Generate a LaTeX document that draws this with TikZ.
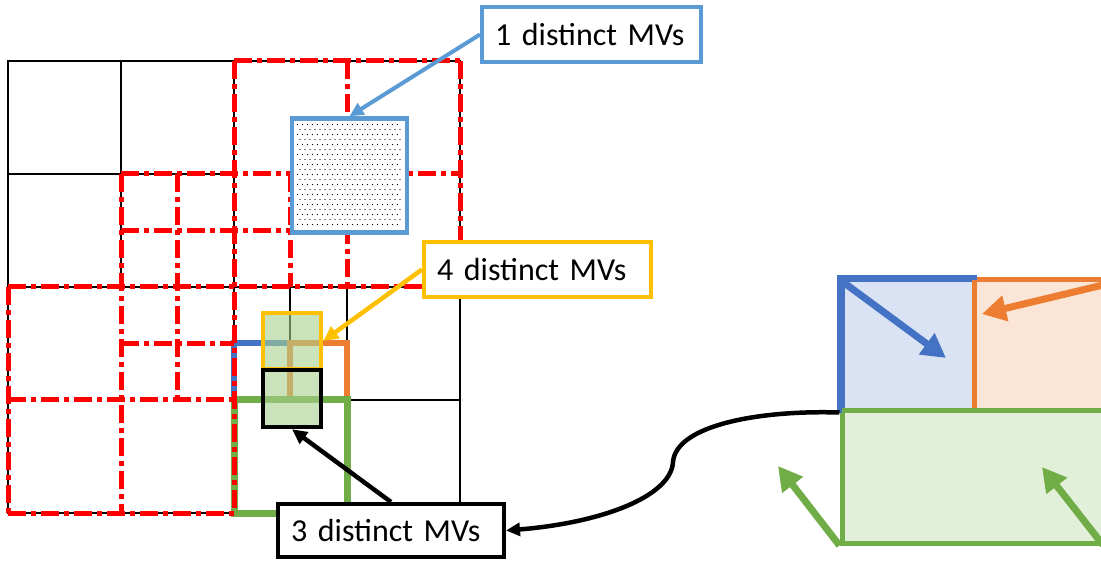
\documentclass[tikz,border=0pt]{standalone}
\usepackage{fontspec}
\setmainfont{Carlito}
\usetikzlibrary{arrows.meta}
\definecolor{mvred}{HTML}{FF0000}
\definecolor{mvlblue}{HTML}{5B9BD5}
\definecolor{mvyellow}{HTML}{FFC000}
\definecolor{mvblue}{HTML}{4472C4}
\definecolor{mvorange}{HTML}{ED7D31}
\definecolor{mvgreen}{HTML}{70AD47}
\definecolor{mvgfill}{HTML}{A9D18E}
\definecolor{fillblue}{HTML}{DAE3F3}
\definecolor{fillorange}{HTML}{FBE5D6}
\definecolor{fillgreen}{HTML}{E2F0D9}
\tikzset{
  gridline/.style={draw=black, line width=1.8},
  reddash/.style={draw=mvred, line width=5, dash pattern=on 18pt off 5pt on 5pt off 5pt},
  callout/.style={draw, line width=4, fill=white, font=\fontsize{32}{38}\selectfont,
    inner xsep=13, inner ysep=0, align=left, minimum height=55, anchor=west},
  cand/.style={fill=mvgfill, fill opacity=0.6, line width=4.5, minimum width=58, minimum height=56, inner sep=0},
  bigbox/.style={line width=5, inner sep=0},
  mvarrow/.style={line width=7, -{Triangle[length=24pt,width=25pt]}},
}
\begin{document}
\begin{tikzpicture}[x=1pt,y=-1pt]
\path[use as bounding box, clip] (0,0) rectangle (1101,561);
\fill[white] (0,0) rectangle (1101,561);

% thin block grid
\draw[gridline] (8,61) rectangle (460,513);
\draw[gridline] (234,61) -- (234,513) (8,287) -- (460,287);
\draw[gridline] (121,61) -- (121,287) (8,174) -- (234,174);
\draw[gridline] (347,287) -- (347,513) (347,400) -- (460,400);
\draw[gridline] (290,287) -- (290,400) (234,343) -- (347,343);

% neighbouring sub-blocks
\draw[draw=mvblue, line width=6] (234,400) -- (234,343) -- (290,343);
\draw[draw=mvorange, line width=6] (290,400) -- (290,343) -- (347,343) -- (347,400);
\draw[draw=mvgreen, line width=7] (234,400) rectangle (347,513);

% shifted partition (dash-dot)
\draw[reddash] (234,61) -- (460,61);
\draw[reddash] (121,174) -- (460,174);
\draw[reddash] (121,231) -- (290,231);
\draw[reddash] (8,287) -- (460,287);
\draw[reddash] (121,344) -- (234,344);
\draw[reddash] (8,400) -- (234,400);
\draw[reddash] (8,513) -- (234,513);
\draw[reddash] (8,287) -- (8,513);
\draw[reddash] (121,174) -- (121,513);
\draw[reddash] (177,174) -- (177,400);
\draw[reddash] (234,61) -- (234,513);
\draw[reddash] (290,174) -- (290,287);
\draw[reddash] (347,61) -- (347,287);
\draw[reddash] (460,61) -- (460,287);

% dotted block
\node[draw=mvlblue, line width=4.5, fill=white, minimum width=115, minimum height=114, inner sep=0] (mv1) at (349.5,175.5) {};
\foreach \j in {0,...,20}{
  \pgfmathsetmacro{\off}{mod(\j,2)*2.5}
  \foreach \i in {0,...,20}{
    \fill[black] (297.5+\off+5*\i, 124.5+5*\j) circle (0.55);
  }
}

% candidate blocks
\node[cand, draw=mvyellow] (mv4) at (292,341) {};
\node[cand, draw=black, minimum height=57] (mv3) at (292,398.5) {};

% callouts
\node[callout, draw=mvlblue, text width=193] (lab1) at (480,34.5) {1 distinct MVs};
\node[callout, draw=mvyellow, text width=201] (lab4) at (422,269.5) {4 distinct MVs};
\node[callout, draw=black, text width=200, minimum height=53] (lab3) at (276,530.5) {3 distinct MVs};

\draw[mvlblue, line width=4, -{Triangle[length=14pt,width=13pt]}] (lab1.west) -- (mv1.north);
\draw[mvyellow, line width=4.5, -{Triangle[length=15pt,width=14pt]}] (lab4.west) -- (mv4.east);
\draw[black, line width=4.5, -{Triangle[length=15pt,width=14pt]}] (lab3.north) -- (mv3.south);

% enlarged neighbourhood with motion vectors
\node[bigbox, draw=mvblue, fill=fillblue, minimum width=132, minimum height=130] (rb) at (908,345) {};
\node[bigbox, draw=mvorange, fill=fillorange, minimum width=136, minimum height=130] (ro) at (1042,345) {};
\node[bigbox, draw=mvgreen, fill=fillgreen, minimum width=268, minimum height=133] (rg) at (976,476.5) {};
\draw[line width=5, draw=mvblue] (rb.south west) -- (rb.north west) -- (rb.north east);

\draw[mvarrow, mvblue] (843,282) -- (946,358);
\draw[mvarrow, mvorange] (1103,285) -- (982,314);
\draw[mvarrow, mvgreen] (1103,545) -- (1042,467);
\draw[mvarrow, mvgreen] (rg.south west) -- (778,466);

\draw[black, line width=4.5, -{Triangle[length=14pt,width=13pt]}]
  (rb.south west) .. controls (760,410) and (676,425) .. (673,462)
  .. controls (671,497) and (600,523) .. (lab3.east);
\end{tikzpicture}
\end{document}
